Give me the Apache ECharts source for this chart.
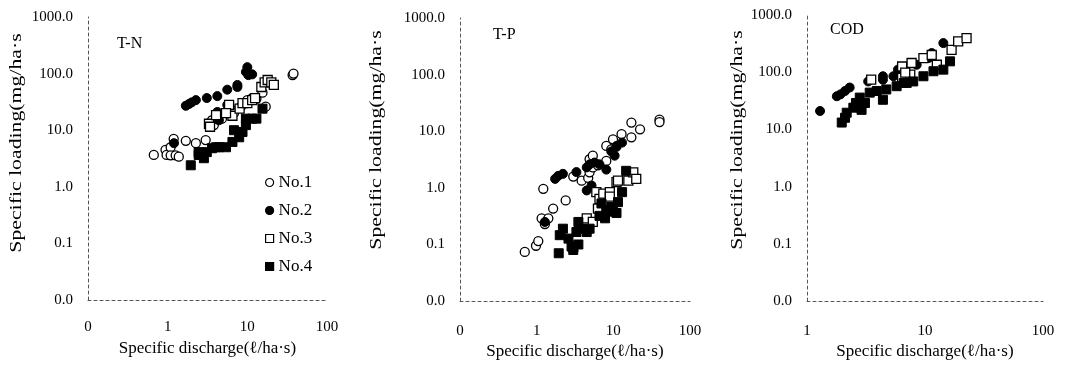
<!DOCTYPE html>
<html>
<head>
<meta charset="utf-8">
<script src="https://cdn.jsdelivr.net/npm/echarts@6/dist/echarts.min.js"></script>
<style>html,body{margin:0;padding:0;background:#fff;}#c{width:1071px;height:365px;}</style>
</head>
<body>
<div id="c"></div>
<script>
// ---- data (x: specific discharge l/ha·s, y: specific loading mg/ha·s) ----
const seriesNames = ['No.1', 'No.2', 'No.3', 'No.4'];
const panelTitles = ['T-N', 'T-P', 'COD'];
const xTitle = 'Specific discharge(\u2113/ha\u00b7s)';
const yTitle = 'Specific loading(mg/ha\u00b7s';

const tnNo1 = [[0.67,3.65],[0.94,4.5],[0.97,3.65],[1.09,5.0],[1.09,3.6],[1.26,3.6],[1.38,3.4],[1.19,7.0],[1.69,6.5],[2.26,5.9],[3.0,6.7],[3.8,12.3],[3.6,15],[4.4,18.5],[4.8,16],[6.3,23],[6.8,20],[8.3,26],[10,34],[11.5,37],[13,36],[15.5,46],[17,26],[37,94],[38,100]];
const tnNo2 = [[1.69,27],[1.85,29],[2.0,31],[2.26,34],[3.1,37],[4.2,40],[5.6,52],[7.5,63],[7.5,58],[9.6,107],[10,130],[10.3,94],[11.5,97],[1.2,5.9],[4.2,21],[5.6,28],[4.4,15]];
const tnNo3 = [[3.3,13],[3.4,11.5],[5.9,28],[6.5,18],[8,24],[8.7,30],[10,30],[11.5,34],[12.5,37],[15,58],[16.5,70],[18,77],[20,70],[21.5,63],[5.4,20],[4.05,18.5]];
const tnNo4 = [[1.95,2.4],[2.45,4.1],[2.45,3.65],[2.85,3.2],[3.1,4.1],[3.6,4.8],[4.4,5.0],[5.4,5.0],[6.5,6.2],[7.9,7.5],[8.7,9.3],[9.6,12.3],[9.6,16],[11.5,16],[13,16],[15.5,24],[4.05,5.0],[6.8,10]];

const tpNo1 = [[0.70,0.074],[0.98,0.095],[1.05,0.115],[1.16,0.29],[1.28,0.23],[1.42,0.29],[1.64,0.43],[1.22,0.96],[2.39,0.6],[3.0,1.58],[3.86,1.34],[4.7,1.5],[4.9,1.88],[5.4,2.3],[4.9,3.2],[5.4,3.7],[6.3,2.5],[8.1,2.99],[8.1,5.5],[9.4,4.8],[9.9,7.2],[12.8,8.9],[17.2,14.2],[17.2,7.8],[22.3,10.8],[40,16],[40,14.5]];
const tpNo2 = [[1.28,0.25],[1.74,1.44],[1.91,1.63],[2.2,1.77],[3.3,1.9],[4.5,2.3],[4.9,2.6],[5.7,2.8],[6.6,2.6],[8.1,2.1],[10.4,3.7],[11,5.3],[13,6.3],[11,5.5],[4.5,0.9],[5.2,1.1],[9.4,4.4]];
const tpNo3 = [[3.0,0.091],[4.5,0.29],[6.0,0.84],[6.6,0.64],[7.4,0.79],[9.0,0.84],[9.0,0.7],[11,1.26],[11.5,1.34],[15.7,1.34],[18.2,1.88],[19.9,1.44],[6.3,0.43],[5.4,0.25]];
const tpNo4 = [[1.94,0.07],[2.0,0.146],[2.2,0.19],[2.6,0.127],[2.85,0.092],[3.0,0.08],[3.5,0.1],[3.3,0.166],[3.86,0.19],[4.9,0.19],[4.5,0.166],[3.5,0.25],[6.6,0.32],[7.0,0.53],[8.1,0.4],[9.4,0.46],[9.9,0.38],[11.5,0.56],[13,0.84],[14.7,2.0],[11,0.36],[7.8,0.29]];

const codNo1 = [];
const codNo2 = [[1.29,21],[1.79,38],[1.92,41],[2.1,47],[2.3,54],[3.3,69],[4.4,74],[4.4,85],[5.4,85],[5.9,111],[8.5,135],[10.7,177],[11.4,216],[14.3,323]];
const codNo3 = [[3.5,74],[6.4,126],[6.4,80],[7.5,91],[7.7,145],[9.7,177],[11.4,200],[12.6,135],[16.8,246],[19.1,346],[22.5,394],[6.8,98]];
const codNo4 = [[1.97,13.2],[2.1,16],[2.17,19.6],[2.47,24],[2.6,29],[2.8,36],[3.4,44],[3.9,47],[4.7,50],[5.75,57],[7.0,65],[7.95,69],[9.7,85],[11.8,104],[14.3,111],[16.3,155],[2.9,22],[3.1,29],[4.4,33],[6.6,65]];

const panelData = [
  [tnNo1, tnNo2, tnNo3, tnNo4],
  [tpNo1, tpNo2, tpNo3, tpNo4],
  [codNo1, codNo2, codNo3, codNo4]
];
const xMins = [0.1, 0.1, 1];
const xMax = 100;
const yMin = 0.01, yMax = 1000;

// ---- layout ----
const FONT = 'Liberation Serif';
const grids = [
  {left: 88, top: 17, width: 239, height: 283},
  {left: 460, top: 18, width: 230, height: 285},
  {left: 807, top: 15, width: 236, height: 288}
];
const xLabelMargins = [20, 22, 22];
const xNameGaps = [37, 39, 40];
const yTitlePos = [[17, 143], [377, 140], [738, 140]];
const titlePos = [[112, 31], [488, 22], [825, 17]];

const symbolStyles = [
  {symbol: 'circle', itemStyle: {color: '#fff', borderColor: '#000', borderWidth: 1.3, opacity: 1}},
  {symbol: 'circle', itemStyle: {color: '#000', borderColor: '#000', borderWidth: 1, opacity: 1}},
  {symbol: 'rect', itemStyle: {color: '#fff', borderColor: '#000', borderWidth: 1.3, opacity: 1}},
  {symbol: 'rect', itemStyle: {color: '#000', borderColor: '#000', borderWidth: 1, opacity: 1}}
];

const axisLine = {show: true, lineStyle: {color: '#555', width: 1, type: [3, 3]}};

const xAxes = [], yAxes = [], series = [], graphics = [], titles = [];
grids.forEach((g, i) => {
  xAxes.push({
    type: 'log', logBase: 10, gridIndex: i, min: xMins[i], max: xMax,
    axisLine: axisLine, axisTick: {show: false}, splitLine: {show: false}, minorTick: {show: false},
    axisLabel: {fontFamily: FONT, fontSize: 15, color: '#000', margin: xLabelMargins[i],
      formatter: v => v < 1 ? '0' : String(Math.round(v))},
    name: xTitle, nameLocation: 'middle', nameGap: xNameGaps[i],
    nameTextStyle: {fontFamily: FONT, fontSize: 17, color: '#000'}
  });
  yAxes.push({
    type: 'log', logBase: 10, gridIndex: i, min: yMin, max: yMax,
    axisLine: axisLine, axisTick: {show: false}, splitLine: {show: false},
    axisLabel: {fontFamily: FONT, fontSize: 15, color: '#000', margin: 15,
      formatter: v => Number(v).toFixed(1)}
  });
  panelData[i].forEach((d, k) => {
    series.push(Object.assign({
      type: 'scatter', name: seriesNames[k], xAxisIndex: i, yAxisIndex: i,
      data: d, symbolSize: 9, silent: true
    }, JSON.parse(JSON.stringify(symbolStyles[k]))));
  });
  titles.push({text: panelTitles[i], left: titlePos[i][0], top: titlePos[i][1],
    textStyle: {fontFamily: FONT, fontSize: 16, fontWeight: 'normal', color: '#000'}});
  graphics.push({
    type: 'text', x: yTitlePos[i][0], y: yTitlePos[i][1], rotation: Math.PI / 2,
    scaleX: 1.28, scaleY: 1,
    style: {text: yTitle, font: '17px "' + FONT + '"', fill: '#000', align: 'center', verticalAlign: 'middle'}
  });
});

const chart = echarts.init(document.getElementById('c'), null, {renderer: 'canvas'});
chart.setOption({
  animation: false,
  backgroundColor: '#fff',
  title: titles,
  grid: grids,
  xAxis: xAxes,
  yAxis: yAxes,
  legend: {
    data: seriesNames, orient: 'vertical', left: 260, top: 169,
    itemWidth: 8, itemHeight: 8, itemGap: 11, itemStyle: {borderWidth: 1.2, opacity: 1},
    textStyle: {fontFamily: FONT, fontSize: 17, color: '#000'}, selectedMode: false
  },
  graphic: graphics,
  series: series
});
</script>
</body>
</html>
